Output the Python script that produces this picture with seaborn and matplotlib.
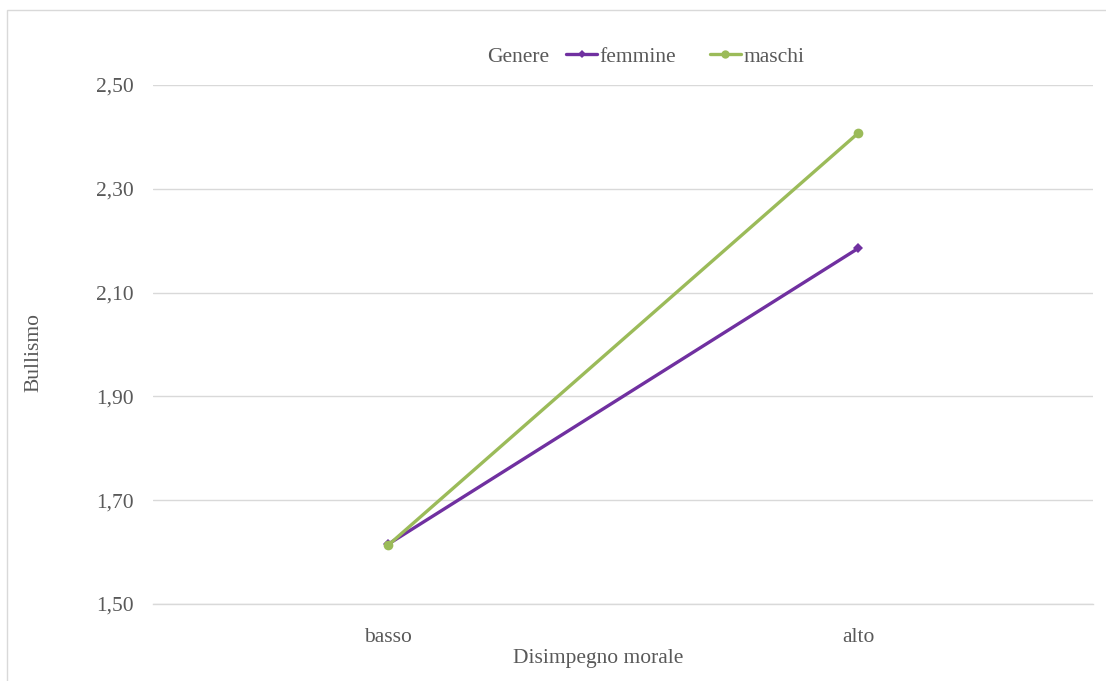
import matplotlib
matplotlib.use("Agg")
import matplotlib.pyplot as plt
from matplotlib.patches import Rectangle
from matplotlib.lines import Line2D
import seaborn as sns
import pandas as pd

# Mean bullying scores by moral disengagement level and gender
livelli = ["basso", "alto"]
femmine = [1.615, 2.185]
maschi = [1.613, 2.407]
y_ticks = [1.50, 1.70, 1.90, 2.10, 2.30, 2.50]

df = pd.DataFrame({
    "Disimpegno morale": livelli * 2,
    "Bullismo": femmine + maschi,
    "Genere": ["femmine"] * 2 + ["maschi"] * 2,
})
df["pos"] = df["Disimpegno morale"].map({k: i for i, k in enumerate(livelli)})

sns.set_theme(style="white")
plt.rcParams["font.family"] = ["Liberation Serif", "DejaVu Serif"]

TEXT = "#595959"
GRID = "#D9D9D9"
FS = 15.5
palette = {"femmine": "#7030A0", "maschi": "#9BBB59"}
markers = {"femmine": "D", "maschi": "o"}
msize = {"femmine": 5, "maschi": 7}

fig = plt.figure(figsize=(11.06, 6.81), dpi=100)
fig.patch.set_facecolor("white")
ax = fig.add_axes([153 / 1106, 1 - 604 / 681, (1093 - 153) / 1106, (604 - 85) / 681])

sns.lineplot(data=df, x="pos", y="Bullismo", hue="Genere", style="Genere",
             palette=palette, markers=markers, dashes=False, linewidth=2.4,
             markersize=6, markeredgewidth=0, ax=ax, legend=False)
for line, g in zip(ax.lines, ["femmine", "maschi"]):
    line.set_markersize(msize[g])

ax.set_xlim(-0.5, 1.5)
ax.set_ylim(1.5, 2.5)
ax.set_xticks(range(len(livelli)))
ax.set_xticklabels(livelli)
ax.set_yticks(y_ticks)
ax.set_yticklabels([f"{v:.2f}".replace(".", ",") for v in y_ticks])
ax.yaxis.grid(True, color=GRID, linewidth=1)
ax.set_axisbelow(True)
for name, s in ax.spines.items():
    s.set_visible(name == "bottom")
ax.spines["bottom"].set_color(GRID)
ax.spines["bottom"].set_linewidth(1)
ax.tick_params(axis="both", length=0, labelsize=FS, colors=TEXT)
ax.tick_params(axis="y", pad=14)
ax.tick_params(axis="x", pad=17)
ax.set_xlabel("Disimpegno morale", fontsize=FS, color=TEXT)
ax.set_ylabel("Bullismo", fontsize=FS, color=TEXT)
ax.xaxis.set_label_coords((598 - 153) / 940, (604 - 649) / 519)
ax.yaxis.set_label_coords((43 - 153) / 940, (604 - 353) / 519)

# Legend row with the group title on the left
fig.text(487 / 1106, 1 - 57 / 681, "Genere", fontsize=FS, color=TEXT,
         ha="left", va="center")
handles = [Line2D([], [], color=palette[g], marker=markers[g], linewidth=2.4,
                  markersize=msize[g] - 1, markeredgewidth=0)
           for g in ["femmine", "maschi"]]
leg = fig.legend(handles, ["femmine", "maschi"], ncol=2, frameon=False,
                 loc="center left", bbox_to_anchor=(566 / 1106, 1 - 57 / 681),
                 fontsize=FS, handlelength=1.45, handletextpad=0.12,
                 columnspacing=1.55, borderaxespad=0, borderpad=0)
for t in leg.get_texts():
    t.set_color(TEXT)

# Chart area border
fig.add_artist(Rectangle((7 / 1106, -0.05), 1.2, 1 - 10 / 681 + 0.05,
                         transform=fig.transFigure, fill=False,
                         edgecolor=GRID, linewidth=1))

fig.savefig("out.png", dpi=100, facecolor="white")
